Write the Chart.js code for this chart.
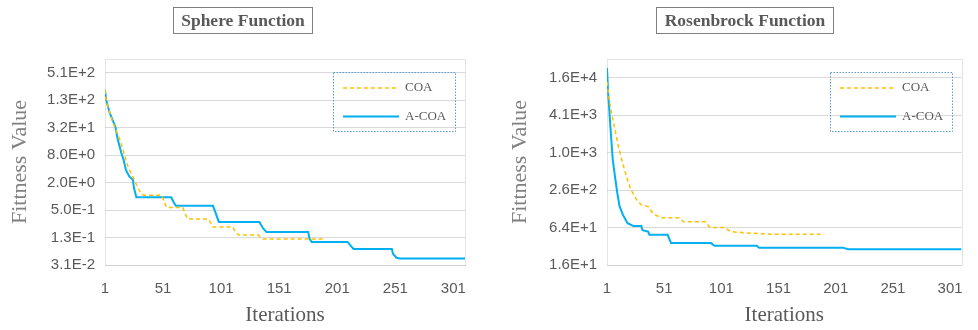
<!DOCTYPE html>
<html>
<head>
<meta charset="utf-8">
<title>Sphere / Rosenbrock convergence</title>
<script src="https://cdn.jsdelivr.net/npm/chart.js@4/dist/chart.umd.min.js"></script>
<style>
  body { margin: 0; background: #fff; }
  #wrap { position: relative; width: 978px; height: 330px; }
  .panel { position: absolute; top: 0; width: 489px; height: 330px; }
  .title-box {
    position: absolute; top: 7px; height: 27px; box-sizing: border-box;
    border: 1px solid #7f7f7f; text-align: center;
    font: bold 17.5px "Liberation Serif", serif; color: #595959; line-height: 25px;
  }
</style>
</head>
<body>
<div id="wrap">
  <div class="panel" style="left:0"><canvas id="sphereChart" width="489" height="330"></canvas></div>
  <div class="panel" style="left:489px"><canvas id="rosenChart" width="489" height="330"></canvas></div>
  <div class="title-box" style="left:173px;width:140px">Sphere Function</div>
  <div class="title-box" style="left:656px;width:178px">Rosenbrock Function</div>
</div>

<script>
// x axis (iterations)
const iterTicks = [1, 51, 101, 151, 201, 251, 301];
const iterMax = 311;

// Sphere function
const sphereTicks = [0.03125, 0.125, 0.5, 2, 8, 32, 128, 512];
const sphereCoaIter = [1, 2, 8, 14, 21, 25, 29, 32, 35, 50, 52, 54, 68, 70, 72, 90, 93, 94, 111, 113, 116, 133, 135, 137, 190];
const sphereCoaVal = [217, 125, 40, 17, 4.3, 2.7, 1.6, 1.15, 1.05, 1.05, 0.75, 0.57, 0.57, 0.42, 0.32, 0.32, 0.24, 0.213, 0.213, 0.17, 0.142, 0.142, 0.125, 0.116, 0.116];
const sphereAcoaIter = [1, 2, 5, 10, 12, 15, 17, 19, 22, 25, 26, 28, 58, 60, 62, 94, 96, 99, 134, 137, 140, 176, 177, 179, 210, 213, 215, 248, 249, 252, 255, 311];
const sphereAcoaVal = [217, 130, 68, 33, 17.5, 9, 6.3, 3.8, 2.7, 2.3, 1.5, 0.95, 0.95, 0.75, 0.62, 0.62, 0.45, 0.275, 0.275, 0.2, 0.166, 0.166, 0.12, 0.1, 0.1, 0.08, 0.07, 0.07, 0.055, 0.045, 0.0434, 0.0434];

// Rosenbrock function
const rosenTicks = [16, 64, 256, 1024, 4096, 16384];
const rosenCoaIter = [1, 3, 5, 8, 11, 14, 18, 22, 27, 31, 37, 41, 43, 49, 64, 68, 87, 91, 104, 109, 126, 144, 191];
const rosenCoaVal = [14000, 7250, 4400, 2400, 1280, 780, 420, 258, 178, 148, 139, 109, 102, 92, 92, 79, 79, 64, 64, 55, 52, 50, 50];
const rosenAcoaIter = [1, 2, 3, 4, 5, 6, 8, 10, 12, 15, 19, 24, 31, 32, 37, 38, 54, 57, 92, 95, 132, 134, 207, 212, 311];
const rosenAcoaVal = [23500, 9300, 5000, 2600, 1450, 800, 420, 230, 140, 102, 75, 68, 68, 58, 55, 49, 49, 36, 36, 32.7, 32.7, 30.4, 30.4, 28.6, 28.6];

function toPoints(iters, vals) {
    return iters.map((it, i) => ({ x: it, y: vals[i] }));
}

function formatExp(v) {
    return v.toExponential(1).toUpperCase();
}

// dotted outline of the plot area + legend box in the top right corner
const plotDecor = {
    id: 'plotDecor',
    beforeDatasetsDraw(chart) {
        const { ctx, chartArea: a } = chart;
        ctx.save();
        ctx.strokeStyle = '#c8c8c8';
        ctx.lineWidth = 1;
        ctx.setLineDash([1, 1]);
        ctx.strokeRect(Math.round(a.left) + 0.5, Math.round(a.top) + 0.5,
            Math.round(a.right - a.left), Math.round(a.bottom - a.top));
        ctx.restore();
    },
    afterDraw(chart) {
        const { ctx, chartArea: a } = chart;
        const w = 122, h = 59;
        const x = Math.round(a.right) - 10 - w, y = Math.round(a.top) + 13;
        ctx.save();
        ctx.strokeStyle = '#5b9bd5';
        ctx.lineWidth = 1;
        ctx.setLineDash([1.5, 1.5]);
        ctx.strokeRect(x + 0.5, y + 0.5, w, h);
        chart.data.datasets.forEach((ds, i) => {
            const ly = y + 16 + i * 28.5;
            ctx.setLineDash(ds.borderDash || []);
            ctx.strokeStyle = ds.borderColor;
            ctx.lineWidth = ds.borderWidth;
            ctx.beginPath();
            ctx.moveTo(x + 10, ly);
            ctx.lineTo(x + 66, ly);
            ctx.stroke();
            ctx.setLineDash([]);
            ctx.fillStyle = '#595959';
            ctx.font = '13px "Liberation Serif"';
            ctx.textBaseline = 'middle';
            ctx.fillText(ds.label, x + 72, ly);
        });
        ctx.restore();
    }
};

function crearGrafica(id, coa, acoa, yTicks, yMin, yMax, yAxisWidth, titleOffset, padRight) {
    const ctx = document.getElementById(id).getContext('2d');
    return new Chart(ctx, {
        type: 'line',
        data: {
            datasets: [
                {
                    label: 'COA',
                    data: coa,
                    borderColor: '#ffc000',
                    borderWidth: 1.5,
                    borderDash: [4, 3],
                    pointRadius: 0,
                    fill: false
                },
                {
                    label: 'A-COA',
                    data: acoa,
                    borderColor: '#00b0f0',
                    borderWidth: 2,
                    pointRadius: 0,
                    fill: false
                }
            ]
        },
        options: {
            responsive: false,
            animation: false,
            layout: { padding: { left: 0, right: padRight, top: 59, bottom: 0 } },
            plugins: {
                legend: { display: false },
                tooltip: { enabled: false }
            },
            elements: { line: { tension: 0 } },
            scales: {
                x: {
                    type: 'linear',
                    min: 1,
                    max: iterMax,
                    afterBuildTicks: s => { s.ticks = iterTicks.map(v => ({ value: v })); },
                    afterFit: s => { s.height = 65; },
                    grid: { display: false, drawTicks: false },
                    border: { display: true, color: '#d9d9d9', width: 1 },
                    ticks: {
                        padding: 15,
                        color: '#595959',
                        font: { family: 'Liberation Sans', size: 15 },
                        maxRotation: 0,
                        callback: v => String(v)
                    },
                    title: {
                        display: true,
                        text: 'Iterations',
                        color: '#595959',
                        font: { family: 'Liberation Serif', size: 21 },
                        padding: { top: 0, bottom: 2 }
                    }
                },
                y: {
                    type: 'logarithmic',
                    min: yMin,
                    max: yMax,
                    afterBuildTicks: s => { s.ticks = yTicks.map(v => ({ value: v })); },
                    afterFit: s => { s.width = yAxisWidth; },
                    grid: { color: '#d9d9d9', lineWidth: 1, drawTicks: false },
                    border: { display: false },
                    ticks: {
                        padding: 10,
                        color: '#595959',
                        font: { family: 'Liberation Sans', size: 15 },
                        callback: v => formatExp(v)
                    },
                    title: {
                        display: true,
                        text: 'Fittness Value',
                        color: '#808080',
                        font: { family: 'Liberation Serif', size: 22 },
                        padding: { top: titleOffset, bottom: 0 }
                    }
                }
            }
        },
        plugins: [plotDecor]
    });
}

crearGrafica('sphereChart',
    toPoints(sphereCoaIter, sphereCoaVal),
    toPoints(sphereAcoaIter, sphereAcoaVal),
    sphereTicks, 0.03125, 1024, 105, 7, 24);

crearGrafica('rosenChart',
    toPoints(rosenCoaIter, rosenCoaVal),
    toPoints(rosenAcoaIter, rosenAcoaVal),
    rosenTicks, 16, 32768, 118, 18, 12);
</script>
</body>
</html>
